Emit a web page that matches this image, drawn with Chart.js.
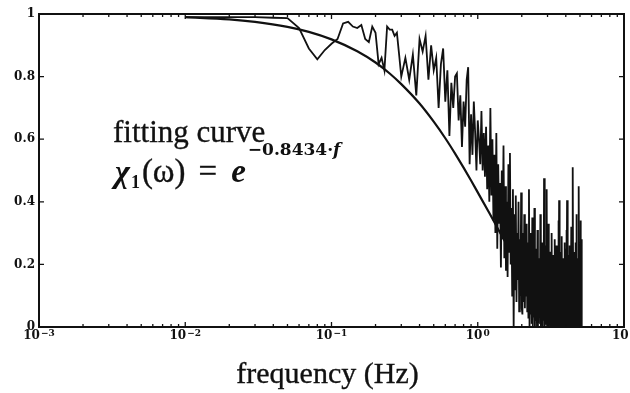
<!DOCTYPE html>
<html>
<head>
<meta charset="utf-8">
<script src="https://cdn.jsdelivr.net/npm/chart.js@4/dist/chart.umd.min.js"></script>
<style>
  html, body { margin: 0; padding: 0; background: #fff; }
  canvas { display: block; }
</style>
</head>
<body>
<canvas id="chart" width="630" height="393"></canvas>
<script>
// measured spectrum (frequency in Hz, chi_1 value)
const dataFreq = [
  0.01, 0.02, 0.03, 0.04, 0.05, 0.06, 0.07, 0.08, 0.09, 0.10,
  0.11, 0.12, 0.13, 0.14, 0.15, 0.16, 0.17, 0.18, 0.19, 0.20,
  0.21, 0.22, 0.23, 0.24, 0.25, 0.26, 0.27, 0.28, 0.29, 0.30,
  0.32, 0.34, 0.36, 0.38, 0.40, 0.42, 0.44, 0.46, 0.48, 0.50,
  0.52, 0.54, 0.56, 0.58, 0.60, 0.62, 0.64, 0.66, 0.68, 0.70,
  0.72, 0.74, 0.76, 0.78, 0.80, 0.82, 0.84, 0.86, 0.88, 0.90,
  0.92, 0.94, 0.96, 0.98, 1.00,
  1.02, 1.04, 1.06, 1.08, 1.10, 1.12, 1.14, 1.16, 1.18, 1.20,
  1.22, 1.24, 1.26, 1.28, 1.30, 1.32, 1.34, 1.36, 1.38, 1.40,
  1.42, 1.44, 1.46, 1.48, 1.50, 1.52, 1.54, 1.56, 1.58, 1.60,
  1.62, 1.64, 1.66, 1.68, 1.70, 1.72, 1.74, 1.76, 1.78, 1.80,
  1.82, 1.84, 1.86, 1.88, 1.90, 1.92, 1.94, 1.96, 1.98, 2.00,
  2.02, 2.04, 2.06, 2.08, 2.10, 2.12, 2.14, 2.16, 2.18, 2.20,
  2.22, 2.24, 2.26, 2.28, 2.30, 2.32, 2.34, 2.36, 2.38, 2.40,
  2.42, 2.44, 2.46, 2.48, 2.50, 2.52, 2.54, 2.56, 2.58, 2.60,
  2.62, 2.64, 2.66, 2.68, 2.70, 2.72, 2.74, 2.76, 2.78, 2.80,
  2.82, 2.84, 2.86, 2.88, 2.90, 2.92, 2.94, 2.96, 2.98, 3.00,
  3.02, 3.04, 3.06, 3.08, 3.10, 3.12, 3.14, 3.16, 3.18, 3.20,
  3.22, 3.24, 3.26, 3.28, 3.30, 3.32, 3.34, 3.36, 3.38, 3.40,
  3.42, 3.44, 3.46, 3.48, 3.50, 3.52, 3.54, 3.56, 3.58, 3.60,
  3.62, 3.64, 3.66, 3.68, 3.70, 3.72, 3.74, 3.76, 3.78, 3.80,
  3.82, 3.84, 3.86, 3.88, 3.90, 3.92, 3.94, 3.96, 3.98, 4.00,
  4.02, 4.04, 4.06, 4.08, 4.10, 4.12, 4.14, 4.16, 4.18, 4.20,
  4.22, 4.24, 4.26, 4.28, 4.30, 4.32, 4.34, 4.36, 4.38, 4.40,
  4.42, 4.44, 4.46, 4.48, 4.50, 4.52, 4.54, 4.56, 4.58, 4.60,
  4.62, 4.64, 4.66, 4.68, 4.70, 4.72, 4.74, 4.76, 4.78, 4.80,
  4.82, 4.84, 4.86, 4.88, 4.90, 4.92, 4.94, 4.96, 4.98, 5.00,
  5.02, 5.04, 5.06, 5.08, 5.10, 5.12, 5.14, 5.16
];
const dataChi = [
  0.99, 0.99, 0.99, 0.988, 0.987, 0.955, 0.89, 0.855, 0.885, 0.905,
  0.92, 0.97, 0.975, 0.96, 0.955, 0.965, 0.92, 0.91, 0.96, 0.94,
  0.84, 0.86, 0.82, 0.96, 0.95, 0.95, 0.93, 0.94, 0.87, 0.80,
  0.86, 0.79, 0.87, 0.74, 0.92, 0.88, 0.93, 0.79, 0.90, 0.82,
  0.86, 0.70, 0.84, 0.89, 0.72, 0.82, 0.61, 0.78, 0.70, 0.80,
  0.81, 0.66, 0.74, 0.575, 0.72, 0.64, 0.79, 0.83, 0.52, 0.68,
  0.55, 0.72, 0.62, 0.50, 0.66,
  0.60, 0.52, 0.69, 0.50, 0.62, 0.48, 0.64, 0.44, 0.58, 0.40,
  0.70, 0.42, 0.60, 0.34, 0.55, 0.30, 0.62, 0.25, 0.52, 0.33,
  0.46, 0.19, 0.50, 0.28, 0.58, 0.22, 0.45, 0.18, 0.40, 0.16,
  0.52, 0.24, 0.556, 0.20, 0.38, 0.10, 0.44, 0.00, 0.36, 0.12,
  0.42, 0.08, 0.30, 0.15, 0.40, 0.05, 0.28, 0.10, 0.43, 0.06,
  0.04, 0.30, 0.08, 0.36, 0.06, 0.22, 0.10, 0.33, 0.05, 0.27,
  0.03, 0.44, 0.00, 0.30, 0.04, 0.20, 0.01, 0.35, 0.00, 0.18,
  0.03, 0.38, 0.00, 0.17, 0.02, 0.25, 0.00, 0.31, 0.00, 0.16,
  0.01, 0.22, 0.03, 0.36, 0.00, 0.18, 0.02, 0.27, 0.00, 0.20,
  0.02, 0.475, 0.00, 0.17, 0.03, 0.26, 0.01, 0.44, 0.00, 0.19,
  0.02, 0.33, 0.00, 0.16, 0.03, 0.24, 0.00, 0.18, 0.01, 0.30,
  0.00, 0.17, 0.02, 0.23, 0.00, 0.15, 0.03, 0.28, 0.00, 0.19,
  0.00, 0.26, 0.02, 0.16, 0.00, 0.21, 0.03, 0.34, 0.00, 0.405,
  0.02, 0.17, 0.00, 0.24, 0.03, 0.15, 0.00, 0.29, 0.02, 0.18,
  0.00, 0.22, 0.03, 0.16, 0.00, 0.27, 0.01, 0.17, 0.00, 0.25,
  0.02, 0.31, 0.00, 0.405, 0.01, 0.18, 0.00, 0.23, 0.03, 0.16,
  0.00, 0.26, 0.01, 0.19, 0.03, 0.15, 0.00, 0.32, 0.02, 0.18,
  0.00, 0.30, 0.01, 0.51, 0.00, 0.20, 0.02, 0.16, 0.00, 0.24,
  0.03, 0.17, 0.00, 0.27, 0.01, 0.36, 0.00, 0.19, 0.03, 0.22,
  0.00, 0.18, 0.02, 0.29, 0.00, 0.45, 0.01, 0.21, 0.00, 0.26,
  0.03, 0.34, 0.00, 0.20, 0.01, 0.28, 0.00, 0.15
];

// fitting curve chi_1 = exp(-0.8434 f)
const fitFreq = [0.01, 0.02, 0.03, 0.05, 0.07, 0.1, 0.15, 0.2, 0.25, 0.3,
  0.4, 0.5, 0.6, 0.7, 0.8, 0.9, 1.0, 1.2, 1.4, 1.6, 1.8, 2.0, 2.5, 3.0, 3.5, 4.0, 4.5, 5.0];
const fitChi = [0.99, 0.983, 0.975, 0.959, 0.943, 0.919, 0.881, 0.845, 0.81, 0.776,
  0.714, 0.656, 0.603, 0.554, 0.509, 0.468, 0.430, 0.364, 0.307, 0.259, 0.219, 0.185, 0.121, 0.080, 0.052, 0.034, 0.022, 0.015];

// axes
const xTickVals = [0.001, 0.01, 0.1, 1, 10];
const xTickExps = ["\u22123", "\u22122", "\u22121", "0", "1"];
const yTickVals = [0, 0.2, 0.4, 0.6, 0.8, 1];
const yTickLabels = ["0", "0.2", "0.4", "0.6", "0.8", "1"];
const xTitle = "frequency (Hz)";

const INK = "#111";
const SERIF = "'Liberation Serif'";

// minor log ticks 2..9 in each decade
const xMinorVals = [];
for (let d = 0; d < xTickVals.length - 1; d++) {
  for (let m = 2; m <= 9; m++) xMinorVals.push(xTickVals[d] * m);
}

// heavy text, a bit like the scanned print
function heavyText(ctx, txt, x, y, w) {
  ctx.lineWidth = w;
  ctx.strokeText(txt, x, y);
  ctx.fillText(txt, x, y);
}

// frame + inward ticks + x labels + annotation text
const framePlugin = {
  id: "frame",
  afterDraw(chart) {
    const { ctx, chartArea: a, scales } = chart;
    const sx = scales.x, sy = scales.y;
    ctx.save();
    ctx.strokeStyle = INK;
    ctx.fillStyle = INK;
    ctx.lineWidth = 2;
    ctx.strokeRect(a.left, a.top, a.right - a.left, a.bottom - a.top);

    ctx.lineWidth = 1.3;
    ctx.beginPath();
    xTickVals.forEach(v => {
      const px = sx.getPixelForValue(v);
      ctx.moveTo(px, a.bottom); ctx.lineTo(px, a.bottom - 5);
      ctx.moveTo(px, a.top); ctx.lineTo(px, a.top + 5);
    });
    xMinorVals.forEach(v => {
      const px = sx.getPixelForValue(v);
      ctx.moveTo(px, a.bottom); ctx.lineTo(px, a.bottom - 3);
      ctx.moveTo(px, a.top); ctx.lineTo(px, a.top + 3);
    });
    yTickVals.forEach(v => {
      const py = sy.getPixelForValue(v);
      ctx.moveTo(a.left, py); ctx.lineTo(a.left + 5, py);
      ctx.moveTo(a.right, py); ctx.lineTo(a.right - 5, py);
    });
    ctx.stroke();

    // x tick labels: 10 with exponent
    ctx.textBaseline = "alphabetic";
    ctx.textAlign = "left";
    xTickVals.forEach((v, i) => {
      const px = sx.getPixelForValue(v);
      ctx.font = "bold 12px 'DejaVu Serif'";
      const wb = ctx.measureText("10").width;
      ctx.font = "bold 9px 'DejaVu Serif'";
      const we = ctx.measureText(xTickExps[i]).width;
      const x0 = px - (wb + we + 1) / 2;
      ctx.font = "bold 12px 'DejaVu Serif'";
      ctx.fillText("10", x0, a.bottom + 12);
      ctx.font = "bold 9px 'DejaVu Serif'";
      ctx.fillText(xTickExps[i], x0 + wb + 1, a.bottom + 9);
    });

    // x axis title
    ctx.textAlign = "center";
    ctx.font = "30px " + SERIF;
    heavyText(ctx, xTitle, (a.left + a.right) / 2 - 4, 383, 0.35);

    // annotation
    ctx.textAlign = "left";
    ctx.font = "31px " + SERIF;
    heavyText(ctx, "fitting curve", 113, 142, 0.35);

    let x = 115;
    const base = 182;
    ctx.font = "italic bold 32px " + SERIF;
    ctx.fillText("\u03C7", x, base);
    x += ctx.measureText("\u03C7").width + 1;
    ctx.font = "bold 18px " + SERIF;
    ctx.fillText("1", x, base + 6);
    x += ctx.measureText("1").width + 2;
    ctx.font = "33px " + SERIF;
    heavyText(ctx, "(\u03C9)", x, base, 0.35);
    x += ctx.measureText("(\u03C9)").width + 13;
    heavyText(ctx, "=", x, base, 0.35);
    x += ctx.measureText("=").width + 14;
    ctx.font = "italic bold 33px " + SERIF;
    ctx.fillText("e", x, base);
    x += ctx.measureText("e").width + 2;
    ctx.font = "bold 17px 'DejaVu Serif'";
    ctx.fillText("\u22120.8434\u00B7", x, base - 27);
    x += ctx.measureText("\u22120.8434\u00B7").width;
    ctx.font = "italic bold 17px 'DejaVu Serif'";
    ctx.fillText("f", x, base - 27);
    ctx.restore();
  }
};

new Chart(document.getElementById("chart"), {
  type: "line",
  data: {
    datasets: [
      {
        label: "measured",
        data: dataFreq.map((f, i) => ({ x: f, y: dataChi[i] })),
        borderColor: INK,
        borderWidth: 1.8,
        pointRadius: 0,
        tension: 0,
        clip: 2
      },
      {
        label: "fitting curve",
        data: fitFreq.map((f, i) => ({ x: f, y: fitChi[i] })),
        borderColor: INK,
        borderWidth: 2.2,
        pointRadius: 0,
        cubicInterpolationMode: "monotone"
      }
    ]
  },
  options: {
    responsive: false,
    animation: false,
    events: [],
    layout: { padding: { top: 14, right: 6, left: 0, bottom: 0 } },
    plugins: { legend: { display: false }, tooltip: { enabled: false } },
    scales: {
      x: {
        type: "logarithmic",
        min: 0.001,
        max: 10,
        grid: { display: false, drawTicks: false },
        border: { display: false },
        ticks: { display: false },
        afterFit: s => { s.height = 66; }
      },
      y: {
        min: 0,
        max: 1,
        grid: { display: false, drawTicks: false },
        border: { display: false },
        afterBuildTicks: s => { s.ticks = yTickVals.map(v => ({ value: v })); },
        afterFit: s => { s.width = 39; },
        ticks: {
          padding: 4,
          color: INK,
          font: { family: "'DejaVu Serif'", size: 12, weight: "bold" },
          callback: v => yTickLabels[yTickVals.findIndex(t => Math.abs(t - v) < 1e-6)]
        }
      }
    }
  },
  plugins: [framePlugin]
});
</script>
</body>
</html>
